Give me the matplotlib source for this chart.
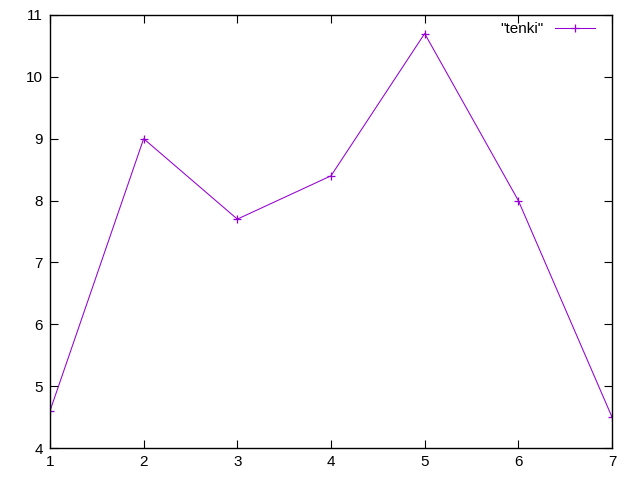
import matplotlib
matplotlib.use("Agg")
import matplotlib.pyplot as plt

# data
days = [1, 2, 3, 4, 5, 6, 7]
tenki = [4.6, 9.0, 7.7, 8.4, 10.7, 8.0, 4.5]

plt.rcParams['font.family'] = ['Liberation Sans', 'DejaVu Sans']
plt.rcParams['font.size'] = 11

fig = plt.figure(figsize=(6.4, 4.8), dpi=100)
ax = fig.add_axes([50/640, 32/480, 562/640, 433/480])

ax.plot(days, tenki, color='#9400d3', lw=0.75, marker='+', ms=6, mew=0.9,
        label='"tenki"')

ax.set_xlim(1, 7)
ax.set_ylim(4, 11)
ax.set_xticks(days)
ax.set_yticks(range(4, 12))
ax.tick_params(direction='in', top=True, right=True, length=6, width=0.8, pad=5)
for s in ax.spines.values():
    s.set_linewidth(1)

leg = ax.legend(loc='upper right', bbox_to_anchor=(595/640, 458/480),
                bbox_transform=fig.transFigure, frameon=False, markerfirst=False,
                handlelength=2.6, borderaxespad=0, borderpad=0, handletextpad=0.8)

fig.savefig('out.png', dpi=100)
